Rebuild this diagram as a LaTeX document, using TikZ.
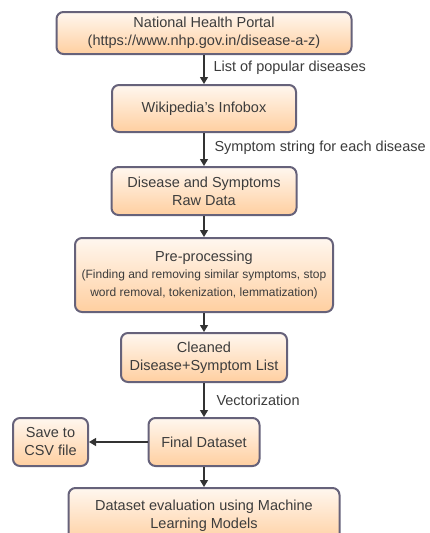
\documentclass[tikz,border=0pt]{standalone}
\usepackage{fontspec}
\setmainfont{Liberation Sans}
\usetikzlibrary{arrows.meta}
\definecolor{boxborder}{HTML}{66627A}
\definecolor{boxtop}{HTML}{FFF7EF}
\definecolor{boxbot}{HTML}{FFCFA0}
\definecolor{txt}{HTML}{3C3C3C}
\newcommand{\smalltxt}{\fontsize{12}{17}\selectfont}
\tikzset{
  stepbox/.style={draw=boxborder, line width=2pt, rounded corners=7pt,
    top color=boxtop, bottom color=boxbot, text=txt, align=center,
    font=\fontsize{14.5}{18}\selectfont, inner sep=0pt},
  flow/.style={draw=black!80, line width=1.1pt, -{Triangle[width=8pt,length=7pt]}},
  lbl/.style={anchor=west, text=txt, font=\fontsize{14.5}{18}\selectfont, inner sep=0pt}
}
\begin{document}
\begin{tikzpicture}[x=1pt,y=-1pt]
\useasboundingbox[fill=white] (0,0) rectangle (430,533);
\node[stepbox, minimum width=295pt, minimum height=42pt] (n1) at (204,33)
  {National Health Portal\\(https://www.nhp.gov.in/disease-a-z)};
\node[stepbox, minimum width=184pt, minimum height=47pt] (n2) at (204,108.5)
  {Wikipedia's Infobox};
\node[stepbox, minimum width=185pt, minimum height=48pt] (n3) at (204,191)
  {Disease and Symptoms\\Raw Data};
\node[stepbox, minimum width=258pt, minimum height=74pt] (n4) at (204,275)
  {Pre-processing\\[-1pt]\smalltxt (Finding and removing similar symptoms, stop\\\smalltxt word removal, tokenization, lemmatization)};
\node[stepbox, minimum width=166pt, minimum height=49pt] (n5) at (204,357.5)
  {Cleaned\\Disease+Symptom List};
\node[stepbox, minimum width=111pt, minimum height=48pt] (n6) at (204,442)
  {Final Dataset};
\node[stepbox, minimum width=75pt, minimum height=48pt] (n7) at (50.5,442)
  {Save to\\CSV file};
\node[stepbox, minimum width=271pt, minimum height=56pt] (n8) at (204,516)
  {Dataset evaluation using Machine\\Learning Models};
\draw[flow] (n1) -- (n2) node[lbl, pos=0.45, xshift=9pt] (l1) {List of popular diseases};
\draw[flow] (n2) -- (n3) node[lbl, pos=0.45, xshift=10pt] (l2) {Symptom string for each disease};
\draw[flow] (n3) -- (n4);
\draw[flow] (n4) -- (n5);
\draw[flow] (n5) -- (n6) node[lbl, pos=0.5, xshift=12pt] (l3) {Vectorization};
\draw[flow] (n6) -- (n7);
\draw[flow] (n6) -- (n8);
\end{tikzpicture}
\end{document}
